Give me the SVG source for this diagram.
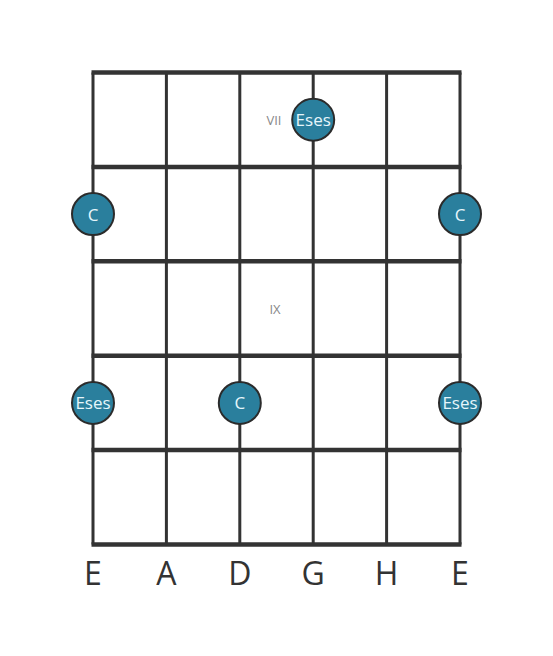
<svg xmlns="http://www.w3.org/2000/svg" width="553" height="656" viewBox="0 0 553 656">
<style>
.fret{stroke:#333;stroke-width:4.5;}
.str{stroke:#333;stroke-width:3;}
.dot{fill:#2a7f9d;stroke:#2b2b2b;stroke-width:2;}
.lbl{font-family:"Open Sans","Noto Sans",sans-serif;font-size:17px;fill:#e6f6fb;text-anchor:middle;dominant-baseline:central;}
.pos{font-family:"Open Sans","Noto Sans",sans-serif;font-size:13px;fill:#888;text-anchor:middle;dominant-baseline:central;}
.name{font-family:"Open Sans","Noto Sans",sans-serif;font-size:32px;fill:#333;text-anchor:middle;}
</style>
<rect width="553" height="656" fill="#fff"/>
<g id="grid">
<line class="str" x1="93" y1="72.5" x2="93" y2="544.5"/>
<line class="str" x1="166.4" y1="72.5" x2="166.4" y2="544.5"/>
<line class="str" x1="239.8" y1="72.5" x2="239.8" y2="544.5"/>
<line class="str" x1="313.2" y1="72.5" x2="313.2" y2="544.5"/>
<line class="str" x1="386.6" y1="72.5" x2="386.6" y2="544.5"/>
<line class="str" x1="460" y1="72.5" x2="460" y2="544.5"/>
<line class="fret" x1="91.5" y1="72.5" x2="461.5" y2="72.5"/>
<line class="fret" x1="91.5" y1="166.9" x2="461.5" y2="166.9"/>
<line class="fret" x1="91.5" y1="261.3" x2="461.5" y2="261.3"/>
<line class="fret" x1="91.5" y1="355.7" x2="461.5" y2="355.7"/>
<line class="fret" x1="91.5" y1="450.1" x2="461.5" y2="450.1"/>
<line class="fret" x1="91.5" y1="544.5" x2="461.5" y2="544.5"/>
</g>
<g id="positions">
<text class="pos" x="274" y="120">VII</text>
<text class="pos" x="275" y="309">IX</text>
</g>
<g id="n1"><circle class="dot" cx="313.2" cy="119.7" r="21"/><text class="lbl" x="313.2" y="119.7">Eses</text></g>
<g id="n2"><circle class="dot" cx="93" cy="214.1" r="21"/><text class="lbl" x="93" y="214.1">C</text></g>
<g id="n3"><circle class="dot" cx="460" cy="214.1" r="21"/><text class="lbl" x="460" y="214.1">C</text></g>
<g id="n4"><circle class="dot" cx="93" cy="402.9" r="21"/><text class="lbl" x="93" y="402.9">Eses</text></g>
<g id="n5"><circle class="dot" cx="239.8" cy="402.9" r="21"/><text class="lbl" x="239.8" y="402.9">C</text></g>
<g id="n6"><circle class="dot" cx="460" cy="402.9" r="21"/><text class="lbl" x="460" y="402.9">Eses</text></g>
<g id="strings">
<text class="name" x="93" y="585">E</text>
<text class="name" x="166.4" y="585">A</text>
<text class="name" x="239.8" y="585">D</text>
<text class="name" x="313.2" y="585">G</text>
<text class="name" x="386.6" y="585">H</text>
<text class="name" x="460" y="585">E</text>
</g>
</svg>
